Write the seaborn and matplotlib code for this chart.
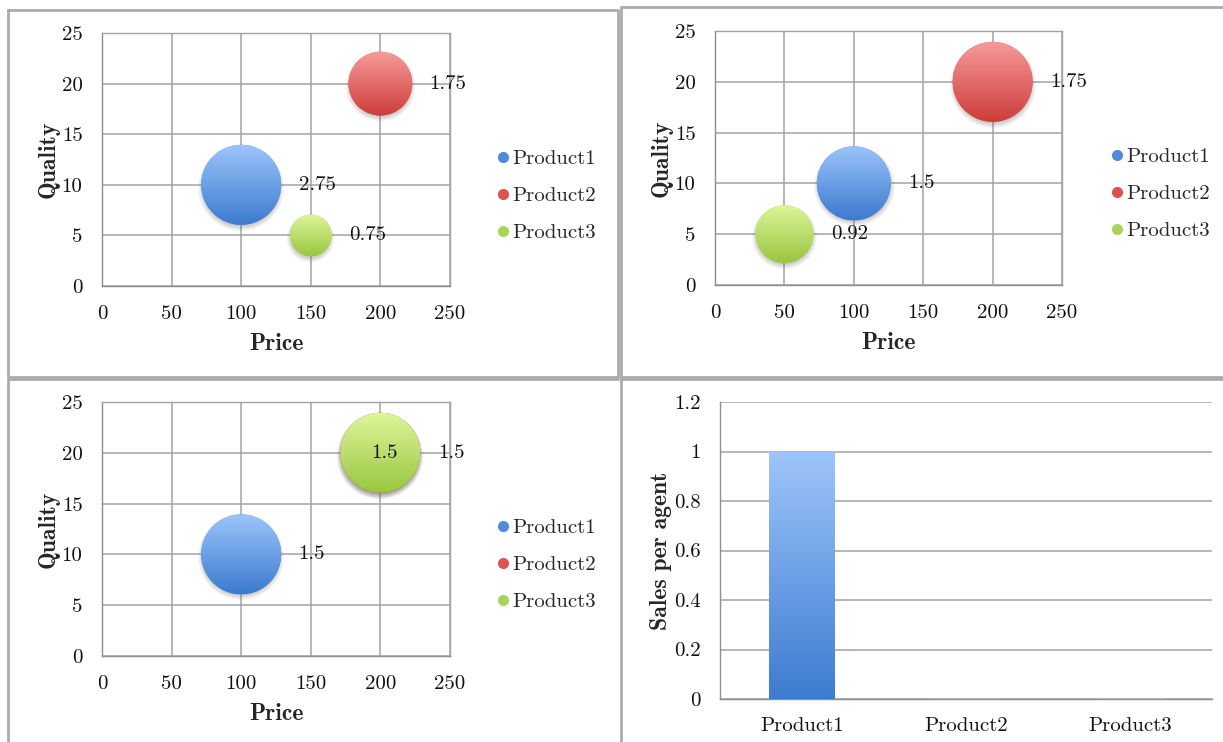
import numpy as np
import pandas as pd
import matplotlib
matplotlib.use("Agg")
import matplotlib.pyplot as plt
import seaborn as sns
from matplotlib.path import Path
from matplotlib.transforms import IdentityTransform
from matplotlib.lines import Line2D
from matplotlib.colors import to_rgb

# ---------------- data ----------------
products = ["Product1", "Product2", "Product3"]

# market snapshot 1
a_price = [100, 200, 150]
a_quality = [10, 20, 5]
a_share = [2.75, 1.75, 0.75]

# market snapshot 2
b_price = [100, 200, 50]
b_quality = [10, 20, 5]
b_share = [1.5, 1.75, 0.92]

# market snapshot 3
c_price = [100, 200, 200]
c_quality = [10, 20, 20]
c_share = [1.5, 1.5, 1.5]

# sales per agent
sales = [1.0, 0.0, 0.0]

price_ticks = [0, 50, 100, 150, 200, 250]
quality_ticks = [0, 5, 10, 15, 20, 25]
sales_ticks = [0, 0.2, 0.4, 0.6, 0.8, 1.0, 1.2]
sales_tick_labels = ["0", "0.2", "0.4", "0.6", "0.8", "1", "1.2"]

# ---------------- style ----------------
W, H, DPI = 1223, 742, 100
sns.set_style("white")
plt.rcParams["font.family"] = ["cmr10", "DejaVu Serif"]
plt.rcParams["axes.formatter.use_mathtext"] = True
plt.rcParams["mathtext.fontset"] = "cm"

FS = 15
FS_LABEL = 17
GRID = "#A3A3A3"
AXIS = "#8E8E8E"
BOLD = "cmb10"

palette = {"Product1": "#4F8ADB", "Product2": "#DE5250", "Product3": "#A9D45A"}
grad_top = {"Product1": "#9CC4FA", "Product2": "#F79A9A", "Product3": "#DDF69A"}
grad_bot = {"Product1": "#3C7BCF", "Product2": "#CD3D3A", "Product3": "#9AC640"}

MAX_DIAM_PX = 80.0
MAX_AREA = (MAX_DIAM_PX * 72.0 / DPI) ** 2

fig = plt.figure(figsize=(W / DPI, H / DPI), dpi=DPI, facecolor="white")


def axes_px(x0, y0, x1, y1):
    return fig.add_axes([x0 / W, 1 - y1 / H, (x1 - x0) / W, (y1 - y0) / H])


def vertical_gradient(c_top, c_bot, n=96):
    t = np.linspace(0, 1, n)[:, None, None]
    top = np.array(to_rgb(c_top))[None, None, :]
    bot = np.array(to_rgb(c_bot))[None, None, :]
    return top * (1 - t) + bot * t


def style_axes(ax):
    ax.set_axisbelow(True)
    for side in ["left", "bottom", "top", "right"]:
        ax.spines[side].set_color(AXIS)
        ax.spines[side].set_linewidth(1.0)
    ax.tick_params(axis="both", which="both", direction="out", length=5,
                   width=1.0, color=AXIS, labelsize=FS,
                   labelcolor="#111111")
    ax.tick_params(axis="y", pad=9)
    ax.tick_params(axis="x", pad=9)


def bubble_panel(ax, price, quality, share, label_mode, legend_xy):
    df = pd.DataFrame({"Product": products, "Price": price,
                       "Quality": quality, "Share": share})
    vmax = max(share)
    ax.set_xlim(0, 250)
    ax.set_ylim(0, 25)
    sns.scatterplot(data=df, x="Price", y="Quality", hue="Product",
                    hue_order=products, palette=palette, size="Share",
                    sizes=(0, MAX_AREA), size_norm=(0, vmax),
                    edgecolor="none", legend=False, ax=ax, zorder=2.5)
    ax.set_xlim(0, 250)
    ax.set_ylim(0, 25)
    ax.set_xticks(price_ticks)
    ax.set_yticks(quality_ticks)
    ax.set_xticklabels([str(t) for t in price_ticks])
    ax.set_yticklabels([str(t) for t in quality_ticks])
    ax.grid(True, color=GRID, linewidth=1.1)
    style_axes(ax)
    ax.spines["top"].set_color(GRID)
    ax.spines["right"].set_color(GRID)

    inv = ax.transData.inverted()
    for i, p in enumerate(products):
        area = MAX_AREA * share[i] / vmax
        r = np.sqrt(area) / 2 * DPI / 72.0
        cx, cy = ax.transData.transform((price[i], quality[i]))

        # soft drop shadow
        pad = 8
        n = int(2 * (r + pad))
        yy, xx = np.mgrid[0:n, 0:n]
        d = np.hypot(xx - n / 2 + 0.5, yy - n / 2 + 0.5 - 3.0)
        alpha = 0.38 * np.clip((r + 3.5 - d) / 7.0, 0, 1)
        shadow = np.zeros((n, n, 4))
        shadow[..., :3] = 0.35
        shadow[..., 3] = alpha
        (sx0, sy0) = inv.transform((cx - n / 2, cy - n / 2))
        (sx1, sy1) = inv.transform((cx + n / 2, cy + n / 2))
        ax.imshow(shadow, extent=(sx0, sx1, sy0, sy1), aspect="auto",
                  origin="upper", interpolation="bilinear", zorder=2.2)

        # gradient fill clipped to the bubble
        (x0, y0) = inv.transform((cx - r, cy - r))
        (x1, y1) = inv.transform((cx + r, cy + r))
        im = ax.imshow(vertical_gradient(grad_top[p], grad_bot[p]),
                       extent=(x0, x1, y0, y1), aspect="auto",
                       origin="upper", interpolation="bilinear", zorder=3)
        im.set_clip_path(Path.circle((cx, cy), r), IdentityTransform())

        # value label
        r_pt = r * 72.0 / DPI
        if label_mode[i] == "center":
            ax.annotate(f"{share[i]:g}", (price[i], quality[i]),
                        xytext=(3, 0), textcoords="offset points",
                        ha="center", va="center", fontsize=FS, zorder=6,
                        color="#111111")
        else:
            ax.annotate(f"{share[i]:g}", (price[i], quality[i]),
                        xytext=(r_pt + 12.5, 0), textcoords="offset points",
                        ha="left", va="center", fontsize=FS, zorder=6,
                        color="#111111")

    ax.set_xlim(0, 250)
    ax.set_ylim(0, 25)
    ax.set_xlabel("Price", fontsize=FS_LABEL, fontfamily=BOLD)
    ax.set_ylabel("Quality", fontsize=FS_LABEL, fontfamily=BOLD)
    ax.xaxis.set_label_coords(0.5, -0.185)
    ax.yaxis.set_label_coords(-0.122, 0.5)

    handles = [Line2D([], [], marker="o", ls="", markersize=8,
                      markerfacecolor=palette[p], markeredgecolor="none")
               for p in products]
    ax.legend(handles, products, loc="center left",
              bbox_to_anchor=(legend_xy[0] / W, 1 - legend_xy[1] / H),
              bbox_transform=fig.transFigure, frameon=False, fontsize=FS,
              handlelength=0.55, handletextpad=0.2, labelspacing=0.88,
              borderpad=0, borderaxespad=0)


# ---------------- panels ----------------
ax1 = axes_px(102, 33, 450, 286)
bubble_panel(ax1, a_price, a_quality, a_share,
             ["right", "right", "right"], (497, 196))

ax2 = axes_px(715, 31, 1062, 285)
bubble_panel(ax2, b_price, b_quality, b_share,
             ["right", "right", "right"], (1111, 194))

ax3 = axes_px(102, 402, 450, 656)
bubble_panel(ax3, c_price, c_quality, c_share,
             ["right", "center", "right"], (497, 565))

# sales bar chart
ax4 = axes_px(720, 402, 1212, 699)
bar_df = pd.DataFrame({"Product": products, "Sales": sales})
sns.barplot(data=bar_df, x="Product", y="Sales", order=products,
            color=palette["Product1"], width=0.4, ax=ax4, zorder=2)
ax4.set_xlim(-0.5, 2.5)
ax4.set_ylim(0, 1.2)
ax4.set_yticks(sales_ticks)
ax4.set_yticklabels(sales_tick_labels)
ax4.yaxis.grid(True, color=GRID, linewidth=1.1)
ax4.xaxis.grid(False)
style_axes(ax4)
ax4.spines["top"].set_visible(False)
ax4.spines["right"].set_visible(False)
ax4.set_xticks([0, 1, 2])
ax4.set_xticklabels(products)
ax4.set_xticks([-0.5, 0.5, 1.5, 2.5], minor=True)
ax4.tick_params(axis="x", which="major", length=0, pad=13)
ax4.tick_params(axis="x", which="minor", length=6)
for patch in ax4.patches:
    if patch.get_height() <= 0:
        continue
    patch.set_edgecolor("none")
    bx0, by0 = patch.get_x(), patch.get_y()
    bx1, by1 = bx0 + patch.get_width(), by0 + patch.get_height()
    im = ax4.imshow(vertical_gradient("#9EC5FB", "#3D7CD0"),
                    extent=(bx0, bx1, by0, by1), aspect="auto",
                    origin="upper", interpolation="bilinear", zorder=3)
    im.set_clip_path(patch)
ax4.set_xlim(-0.5, 2.5)
ax4.set_ylim(0, 1.2)
ax4.set_xlabel("")
ax4.set_ylabel("Sales per agent", fontsize=FS_LABEL, fontfamily=BOLD)
ax4.yaxis.set_label_coords(-0.097, 0.5)

# ---------------- panel frames ----------------
FRAME = "#ABABAB"


def frame_line(xs, ys):
    fig.add_artist(Line2D([x / W for x in xs], [1 - y / H for y in ys],
                          color=FRAME, linewidth=2.0,
                          transform=fig.transFigure))


frame_line([8, 618, 618, 8, 8], [10, 10, 377, 377, 10])
frame_line([621, 1223], [7, 7])
frame_line([621, 621], [7, 377])
frame_line([621, 1223], [377, 377])
frame_line([8, 618], [379, 379])
frame_line([8, 8], [379, 742])
frame_line([621, 1223], [379, 379])
frame_line([621, 621], [379, 742])

fig.savefig("out.png", dpi=DPI, facecolor="white")
